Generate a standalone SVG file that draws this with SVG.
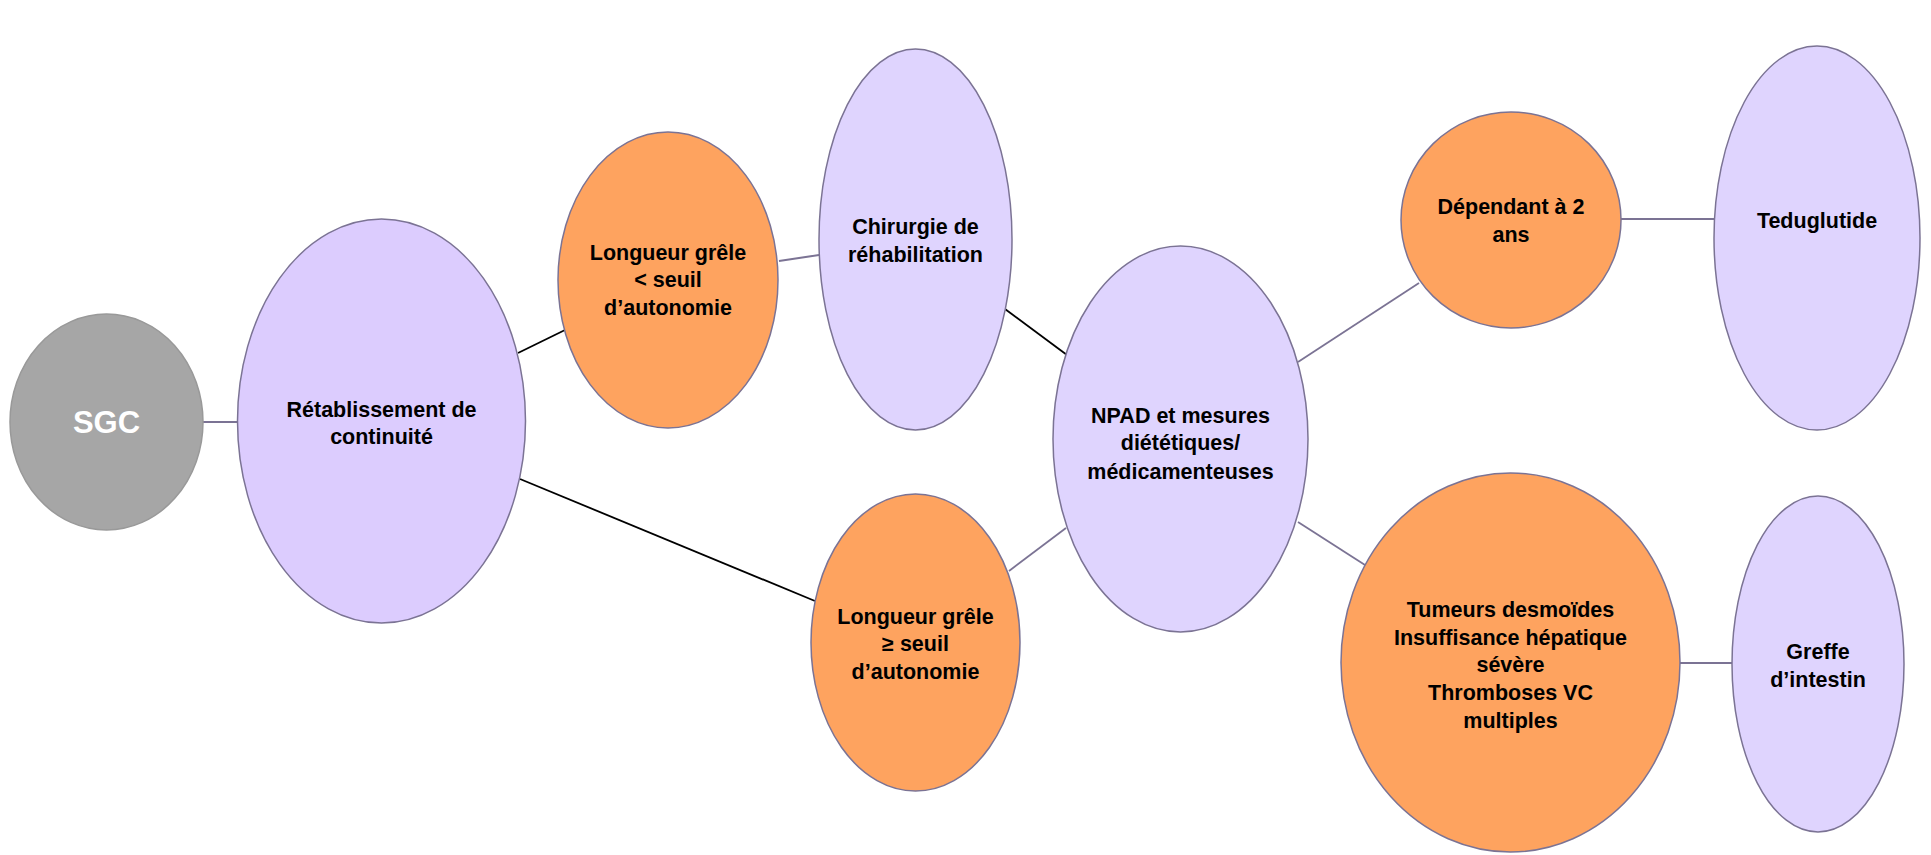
<svg xmlns="http://www.w3.org/2000/svg" width="1931" height="855" viewBox="0 0 1931 855">
<style>
.purple{fill:#dfd4fe;stroke:#7b7394;stroke-width:1.5}
.orange{fill:#fea35f;stroke:#7b7394;stroke-width:1.5}
.gray{fill:#a6a6a6;stroke:#999999;stroke-width:1.5}
.t{font-family:"Liberation Sans",Arial,Helvetica,sans-serif;font-weight:bold;font-size:21.5px;fill:#000;text-anchor:middle}
.w{fill:#fff;font-size:31px}
.cp{stroke:#7b7394;stroke-width:1.8;fill:none}
.cb{stroke:#000;stroke-width:1.8;fill:none}
</style>
<rect width="1931" height="855" fill="#fff"/>
<g id="connectors">
<line class="cp" x1="203" y1="422" x2="237" y2="422"/>
<line class="cb" x1="518" y1="353" x2="565" y2="330"/>
<line class="cb" x1="520" y1="479" x2="815" y2="601"/>
<line class="cp" x1="779" y1="261" x2="819" y2="255"/>
<line class="cb" x1="1005" y1="309" x2="1067" y2="355"/>
<line class="cp" x1="1066" y1="528" x2="1009" y2="571"/>
<line class="cp" x1="1298" y1="362" x2="1419" y2="283"/>
<line class="cp" x1="1298" y1="522" x2="1365" y2="565"/>
<line class="cp" x1="1621" y1="219" x2="1714" y2="219"/>
<line class="cp" x1="1680" y1="663" x2="1732" y2="663"/>
</g>
<g id="sgc">
<ellipse class="gray" cx="106.5" cy="422" rx="96.5" ry="108"/>
<text class="t w" x="106.5" y="433">SGC</text>
</g>
<g id="retablissement">
<ellipse class="purple" cx="381.5" cy="421" rx="144" ry="202" style="fill:#dcccfe"/>
<text class="t" x="381.5" y="417">Rétablissement de</text>
<text class="t" x="381.5" y="444">continuité</text>
</g>
<g id="longueur-inf">
<ellipse class="orange" cx="668" cy="280" rx="110" ry="148"/>
<text class="t" x="668" y="260">Longueur grêle</text>
<text class="t" x="668" y="287">&lt; seuil</text>
<text class="t" x="668" y="315">d’autonomie</text>
</g>
<g id="chirurgie">
<ellipse class="purple" cx="915.5" cy="239.5" rx="96.5" ry="190.5"/>
<text class="t" x="915.5" y="234">Chirurgie de</text>
<text class="t" x="915.5" y="262">réhabilitation</text>
</g>
<g id="longueur-sup">
<ellipse class="orange" cx="915.5" cy="642.5" rx="104.5" ry="148.5"/>
<text class="t" x="915.5" y="624">Longueur grêle</text>
<text class="t" x="915.5" y="651">≥ seuil</text>
<text class="t" x="915.5" y="679">d’autonomie</text>
</g>
<g id="npad">
<ellipse class="purple" cx="1180.5" cy="439" rx="127.5" ry="193"/>
<text class="t" x="1180.5" y="423">NPAD et mesures</text>
<text class="t" x="1180.5" y="450">diététiques/</text>
<text class="t" x="1180.5" y="479">médicamenteuses</text>
</g>
<g id="dependant">
<ellipse class="orange" cx="1511" cy="220" rx="110" ry="108"/>
<text class="t" x="1511" y="214">Dépendant à 2</text>
<text class="t" x="1511" y="242">ans</text>
</g>
<g id="teduglutide">
<ellipse class="purple" cx="1817" cy="238" rx="103" ry="192"/>
<text class="t" x="1817" y="228">Teduglutide</text>
</g>
<g id="tumeurs">
<ellipse class="orange" cx="1510.5" cy="662.5" rx="169.5" ry="189.5"/>
<text class="t" x="1510.5" y="617">Tumeurs desmoïdes</text>
<text class="t" x="1510.5" y="645">Insuffisance hépatique</text>
<text class="t" x="1510.5" y="672">sévère</text>
<text class="t" x="1510.5" y="700">Thromboses VC</text>
<text class="t" x="1510.5" y="728">multiples</text>
</g>
<g id="greffe">
<ellipse class="purple" cx="1818" cy="664" rx="86" ry="168"/>
<text class="t" x="1818" y="659">Greffe</text>
<text class="t" x="1818" y="687">d’intestin</text>
</g>
</svg>
